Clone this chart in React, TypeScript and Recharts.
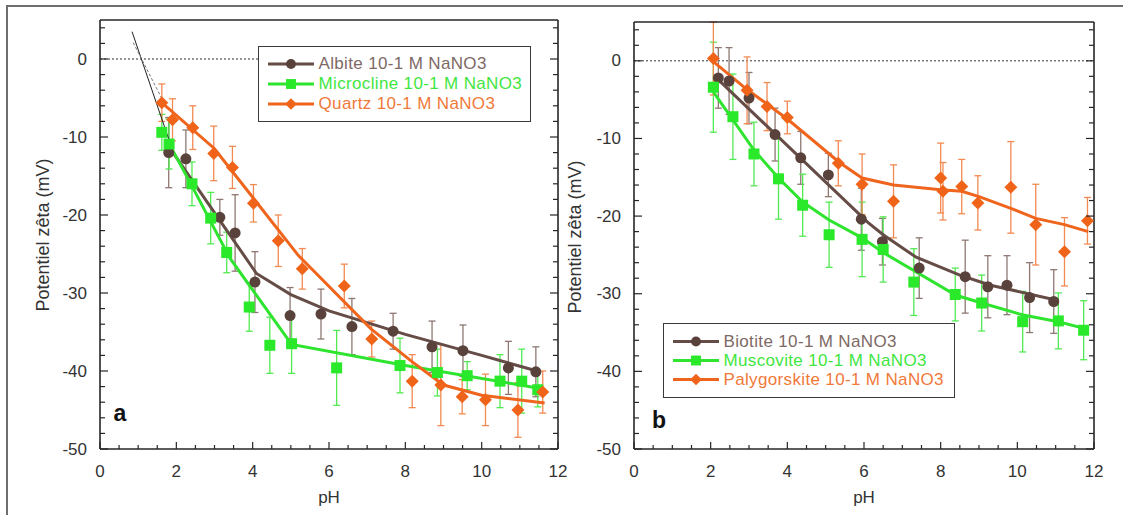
import React from 'react';
import { ScatterChart, Scatter, XAxis, YAxis, ErrorBar, ReferenceLine, Legend } from 'recharts';

const FONT = "'Liberation Sans', Arial, Helvetica, sans-serif";
const AXIS = '#262626';
const TEXT = '#333333';

// axes
const PH_TICKS = [0, 0.5, 1, 1.5, 2, 2.5, 3, 3.5, 4, 4.5, 5, 5.5, 6, 6.5, 7, 7.5, 8, 8.5, 9, 9.5, 10, 10.5, 11, 11.5, 12];
const PH_LABELS = [0, 2, 4, 6, 8, 10, 12];
const ZETA_TICKS = [-50, -48, -46, -44, -42, -40, -38, -36, -34, -32, -30, -28, -26, -24, -22, -20, -18, -16, -14, -12, -10, -8, -6, -4, -2, 0, 2, 4];
const ZETA_LABELS = [-50, -40, -30, -20, -10, 0];

// panel a : measured points
const ALBITE_PH = [1.8, 2.25, 3.14, 3.54, 4.06, 4.98, 5.79, 6.6, 7.68, 8.7, 9.51, 10.7, 11.42];
const ALBITE_ZETA = [-12, -12.8, -20.3, -22.3, -28.6, -32.9, -32.7, -34.3, -34.9, -36.9, -37.4, -39.6, -40.1];
const ALBITE_ERR = [4.5, 3.7, 2.3, 4.9, 3.9, 3.6, 3.2, 3.6, 2.3, 3.3, 3.3, 3.4, 3.2];

const MICROCLINE_PH = [1.62, 1.81, 2.41, 2.9, 3.32, 3.91, 4.45, 5.02, 6.2, 7.86, 8.84, 9.62, 10.48, 11.05, 11.47];
const MICROCLINE_ZETA = [-9.4, -10.9, -16, -20.4, -24.8, -31.8, -36.7, -36.5, -39.6, -39.3, -40.2, -40.6, -41.3, -41.3, -42.4];
const MICROCLINE_ERR = [2.3, 3.2, 2.8, 3.3, 2.6, 3.1, 3.6, 3.8, 4.8, 3.5, 3, 1.8, 3.4, 4.1, 2.2];

const QUARTZ_PH = [1.62, 1.9, 2.43, 2.98, 3.47, 4.02, 4.67, 5.3, 6.4, 7.12, 8.18, 8.93, 9.49, 10.1, 10.95, 11.6];
const QUARTZ_ZETA = [-5.6, -7.8, -8.8, -12.1, -13.9, -18.5, -23.3, -26.9, -29.1, -35.9, -41.3, -41.8, -43.3, -43.7, -45, -42.7];
const QUARTZ_ERR = [2.4, 2.7, 2.8, 3.5, 2.7, 2.4, 3.3, 2.6, 2.8, 2.3, 3.4, 5.2, 2.2, 3.3, 3.5, 2.7];

// panel a : trend lines
const ALBITE_FIT_PH = [1.8, 4.1, 5, 6, 8, 10, 11.45];
const ALBITE_FIT = [-11.2, -27.5, -30.2, -32.3, -35.3, -38, -40];
const MICROCLINE_FIT_PH = [1.75, 2.4, 3.4, 5.02, 8, 11.5];
const MICROCLINE_FIT = [-10.3, -16.2, -25.5, -36.6, -39.3, -42.2];
const QUARTZ_FIT_PH = [1.62, 3, 5.2, 7.1, 8.2, 9, 10, 11.65];
const QUARTZ_FIT = [-5.6, -11.5, -25.2, -34.6, -38.9, -41.8, -43.1, -44.1];
const IEP_A1_PH = [0.84, 1.83];
const IEP_A1 = [3.5, -10.7];
const IEP_A2_PH = [0.87, 1.76];
const IEP_A2 = [2.1, -6.4];
const ZERO_END_A = 4.3;

// panel b : measured points
const BIOTITE_PH = [2.2, 2.48, 3.0, 3.68, 4.35, 5.07, 5.93, 6.48, 7.44, 8.64, 9.23, 9.73, 10.32, 10.95];
const BIOTITE_ZETA = [-2.2, -2.6, -4.8, -9.5, -12.5, -14.7, -20.4, -23.3, -26.7, -27.8, -29.1, -28.9, -30.5, -31];
const BIOTITE_ERR = [3.9, 4.3, 3.3, 3.4, 3.4, 2.8, 4, 3, 3.9, 4.7, 4, 3.8, 4.5, 4.1];

const MUSCOVITE_PH = [2.07, 2.58, 3.13, 3.77, 4.4, 5.09, 5.95, 6.5, 7.3, 8.38, 9.07, 10.14, 11.07, 11.73];
const MUSCOVITE_ZETA = [-3.4, -7.2, -12, -15.2, -18.6, -22.4, -23, -24.3, -28.5, -30.1, -31.2, -33.6, -33.5, -34.7];
const MUSCOVITE_ERR = [5.8, 5.5, 4.1, 5.2, 4, 4.2, 4.8, 4.2, 4.3, 3.4, 3.6, 3.9, 3.6, 3.8];

const PALYGORSKITE_PH = [2.07, 2.95, 3.47, 4.0, 5.33, 5.95, 6.77, 8.0, 8.06, 8.55, 8.97, 9.83, 10.48, 11.23, 11.83];
const PALYGORSKITE_ZETA = [0.3, -3.8, -5.9, -7.3, -13.2, -15.9, -18.1, -15.1, -16.8, -16.2, -18.3, -16.3, -21.1, -24.6, -20.6];
const PALYGORSKITE_ERR = [4.7, 4.3, 3.1, 2.1, 2.9, 3.9, 4.7, 4.5, 3.7, 3.5, 3.5, 5.9, 5.2, 4.4, 3];

// panel b : trend lines
const BIOTITE_FIT_PH = [2.17, 6.1, 6.5, 7.36, 8.5, 9.3, 11];
const BIOTITE_FIT = [-2.3, -20.8, -22.4, -25.3, -27.6, -28.9, -30.8];
const MUSCOVITE_FIT_PH = [2.07, 3.13, 3.77, 4.4, 5.09, 5.95, 6.5, 8.4, 9.07, 10.12, 11.07, 11.77];
const MUSCOVITE_FIT = [-4, -11.5, -15.1, -18.2, -20.5, -22.8, -24.7, -30.2, -31.2, -32.7, -33.6, -34.5];
const PALYGORSKITE_FIT_PH = [2.07, 2.95, 4.0, 5.36, 5.95, 6.77, 8.0, 8.55, 9, 9.83, 10.48, 11.23, 11.85];
const PALYGORSKITE_FIT = [-0.1, -3.7, -7.5, -13.1, -15.1, -16, -16.6, -16.8, -17.5, -19, -20.3, -21.1, -22];

const BROWN = { mark: '#5a423c', line: '#654c46', err: '#8e7872', text: '#7d6964' };
const GREEN = { mark: '#2ae82a', line: '#2fe42f', err: '#52ea52', text: '#3fe63f' };
const ORANGE = { mark: '#f0641a', line: '#ef651d', err: '#f28a52', text: '#f0793a' };

const zip = (xs: number[], ys: number[], es?: number[]) =>
  xs.map((x, i) => ({ x, y: ys[i], err: es ? es[i] : 0 }));

type Kind = 'circle' | 'square' | 'diamond';

function markerEl(kind: Kind, cx: number, cy: number, fill: string, s = 1) {
  if (kind === 'circle') return <circle cx={cx} cy={cy} r={5.5 * s} fill={fill} />;
  if (kind === 'square') return <rect x={cx - 5.5 * s} y={cy - 5.5 * s} width={11 * s} height={11 * s} fill={fill} />;
  const d = 6.5 * s;
  return <polygon points={`${cx},${cy - d} ${cx + d},${cy} ${cx},${cy + d} ${cx - d},${cy}`} fill={fill} />;
}

const shapeOf = (kind: Kind, fill: string) => (p: any) => markerEl(kind, p.cx, p.cy, fill);
const NoShape = () => <g />;

// axes have a 1px box; ticks are drawn inward by hand
const BottomTick = (p: any) => {
  const v = p.payload.value;
  const major = PH_LABELS.includes(v);
  return (
    <g>
      <line x1={p.x} x2={p.x} y1={p.y} y2={p.y - (major ? 7 : 4)} stroke={AXIS} strokeWidth={1.2} />
      {major && (
        <text x={p.x} y={p.y + 22} textAnchor="middle" dominantBaseline="central" fontSize={17} fontFamily={FONT} fill={TEXT}>
          {v}
        </text>
      )}
    </g>
  );
};
const TopTick = (p: any) => {
  const major = PH_LABELS.includes(p.payload.value);
  return <line x1={p.x} x2={p.x} y1={p.y} y2={p.y + (major ? 7 : 4)} stroke={AXIS} strokeWidth={1.2} />;
};
const LeftTick = (p: any) => {
  const v = p.payload.value;
  const major = ZETA_LABELS.includes(v);
  return (
    <g>
      <line x1={p.x} x2={p.x + (major ? 8 : 5)} y1={p.y} y2={p.y} stroke={AXIS} strokeWidth={1.2} />
      {major && (
        <text x={p.x - 13} y={p.y} textAnchor="end" dominantBaseline="central" fontSize={17} fontFamily={FONT} fill={TEXT}>
          {v}
        </text>
      )}
    </g>
  );
};
const RightTick = (p: any) => {
  const major = ZETA_LABELS.includes(p.payload.value);
  return <line x1={p.x} x2={p.x - (major ? 8 : 5)} y1={p.y} y2={p.y} stroke={AXIS} strokeWidth={1.2} />;
};

type Series = {
  name: string;
  kind: Kind;
  color: typeof BROWN;
  points: { x: number; y: number; err: number }[];
  fit: { x: number; y: number; err: number }[];
};

const SERIES_A: Series[] = [
  { name: 'Albite 10-1 M NaNO3', kind: 'circle', color: BROWN, points: zip(ALBITE_PH, ALBITE_ZETA, ALBITE_ERR), fit: zip(ALBITE_FIT_PH, ALBITE_FIT) },
  { name: 'Microcline 10-1 M NaNO3', kind: 'square', color: GREEN, points: zip(MICROCLINE_PH, MICROCLINE_ZETA, MICROCLINE_ERR), fit: zip(MICROCLINE_FIT_PH, MICROCLINE_FIT) },
  { name: 'Quartz 10-1 M NaNO3', kind: 'diamond', color: ORANGE, points: zip(QUARTZ_PH, QUARTZ_ZETA, QUARTZ_ERR), fit: zip(QUARTZ_FIT_PH, QUARTZ_FIT) },
];

const SERIES_B: Series[] = [
  { name: 'Biotite 10-1 M NaNO3', kind: 'circle', color: BROWN, points: zip(BIOTITE_PH, BIOTITE_ZETA, BIOTITE_ERR), fit: zip(BIOTITE_FIT_PH, BIOTITE_FIT) },
  { name: 'Muscovite 10-1 M NaNO3', kind: 'square', color: GREEN, points: zip(MUSCOVITE_PH, MUSCOVITE_ZETA, MUSCOVITE_ERR), fit: zip(MUSCOVITE_FIT_PH, MUSCOVITE_FIT) },
  { name: 'Palygorskite 10-1 M NaNO3', kind: 'diamond', color: ORANGE, points: zip(PALYGORSKITE_PH, PALYGORSKITE_ZETA, PALYGORSKITE_ERR), fit: zip(PALYGORSKITE_FIT_PH, PALYGORSKITE_FIT) },
];

function LegendBox({ series, width, height, rowH, padTop }: { series: Series[]; width: number; height: number; rowH: number; padTop: number }) {
  return (
    <div
      style={{
        width,
        height,
        boxSizing: 'border-box',
        border: `1.5px solid #3a3a3a`,
        background: '#fff',
        paddingTop: padTop - 1.5,
        fontFamily: FONT,
      }}
    >
      {series.map((s) => (
        <div key={s.name} style={{ display: 'flex', alignItems: 'center', height: rowH }}>
          <svg width={47} height={rowH} style={{ marginLeft: 8.5, flex: 'none' }}>
            <line x1={0} x2={46} y1={rowH / 2} y2={rowH / 2} stroke={s.color.line} strokeWidth={3} />
            {markerEl(s.kind, 23, rowH / 2, s.color.mark, 0.9)}
          </svg>
          <span style={{ marginLeft: 4, fontSize: 17, letterSpacing: 0.35, color: s.color.text, whiteSpace: 'nowrap', lineHeight: `${rowH}px` }}>
            {s.name}
          </span>
        </div>
      ))}
    </div>
  );
}

function Panel(props: {
  series: Series[];
  width: number;
  top: number;
  left: number;
  right: number;
  legend: { left: number; top: number; width: number; height: number; rowH: number; padTop: number };
  zeroEnd?: number;
  extra?: React.ReactNode;
}) {
  const { series, width, top, left, right, legend, zeroEnd } = props;
  const frame = { stroke: AXIS, strokeWidth: 1.6 };
  return (
    <ScatterChart width={width} height={515} margin={{ top: top - 1, right: right - 1, bottom: 65, left: left - 1 }}>
      <XAxis dataKey="x" type="number" domain={[0, 12]} ticks={PH_TICKS} interval={0} height={1} tickSize={0} tickMargin={0} tickLine={false} tick={BottomTick} axisLine={frame} allowDataOverflow />
      <XAxis xAxisId="top" orientation="top" type="number" domain={[0, 12]} ticks={PH_TICKS} interval={0} height={1} tickSize={0} tickMargin={0} tickLine={false} tick={TopTick} axisLine={frame} allowDataOverflow />
      <YAxis dataKey="y" type="number" domain={[-50, 5]} ticks={ZETA_TICKS} interval={0} width={1} tickSize={0} tickMargin={0} tickLine={false} tick={LeftTick} axisLine={frame} allowDataOverflow />
      <YAxis yAxisId="right" orientation="right" type="number" domain={[-50, 5]} ticks={ZETA_TICKS} interval={0} width={1} tickSize={0} tickMargin={0} tickLine={false} tick={RightTick} axisLine={frame} allowDataOverflow />
      {zeroEnd === undefined ? (
        <ReferenceLine y={0} stroke="#333" strokeWidth={1} strokeDasharray="2 2" />
      ) : (
        <ReferenceLine segment={[{ x: 0, y: 0 }, { x: zeroEnd, y: 0 }]} stroke="#333" strokeWidth={1} strokeDasharray="2 2" />
      )}
      {props.extra}
      {series.map((s) => (
        <Scatter key={s.name + '-fit'} data={s.fit} line={{ stroke: s.color.line, strokeWidth: 3 }} shape={NoShape} legendType="none" isAnimationActive={false} />
      ))}
      {series.map((s) => (
        <Scatter key={s.name} name={s.name} data={s.points} shape={shapeOf(s.kind, s.color.mark)} isAnimationActive={false}>
          <ErrorBar dataKey="err" direction="y" width={3.5} stroke={s.color.err} strokeWidth={1.3} />
        </Scatter>
      ))}
      <Legend
        layout="vertical"
        align="center"
        verticalAlign="middle"
        wrapperStyle={{ left: legend.left, top: legend.top, width: legend.width, height: legend.height }}
        content={() => <LegendBox series={series} width={legend.width} height={legend.height} rowH={legend.rowH} padTop={legend.padTop} />}
      />
    </ScatterChart>
  );
}

const textStyle: React.CSSProperties = { position: 'absolute', fontFamily: FONT, fontSize: 17, color: TEXT, whiteSpace: 'nowrap' };

function Centered({ x, y, rotate, style, children }: { x: number; y: number; rotate?: boolean; style?: React.CSSProperties; children: React.ReactNode }) {
  return (
    <div style={{ ...textStyle, left: x, top: y, width: 0, height: 0, ...style }}>
      <div style={{ position: 'absolute', left: 0, top: 0, transform: `translate(-50%, -50%)${rotate ? ' rotate(-90deg)' : ''}` }}>{children}</div>
    </div>
  );
}

export default function App() {
  return (
    <div style={{ position: 'absolute', left: 0, top: 0, width: 1123, height: 515, background: '#fff', overflow: 'hidden' }}>
      <div style={{ position: 'absolute', left: 6, top: 5, width: 1117, height: 510, borderTop: '2px solid #6e6e6e', borderLeft: '2px solid #6e6e6e' }} />
      <div style={{ position: 'absolute', left: 0, top: 0 }}>
        <Panel
          series={SERIES_A}
          width={570}
          top={20}
          left={100}
          right={12}
          zeroEnd={ZERO_END_A}
          legend={{ left: 258, top: 46, width: 273, height: 76, rowH: 20, padTop: 8 }}
          extra={[
            <Scatter key="iep1" data={zip(IEP_A1_PH, IEP_A1)} line={{ stroke: '#222', strokeWidth: 1 }} shape={NoShape} legendType="none" isAnimationActive={false} />,
            <Scatter key="iep2" data={zip(IEP_A2_PH, IEP_A2)} line={{ stroke: '#777', strokeWidth: 1, strokeDasharray: '3 2' }} shape={NoShape} legendType="none" isAnimationActive={false} />,
          ]}
        />
      </div>
      <div style={{ position: 'absolute', left: 570, top: 0 }}>
        <Panel
          series={SERIES_B}
          width={553}
          top={22}
          left={64}
          right={29}
          legend={{ left: 93, top: 323, width: 292, height: 75, rowH: 19, padTop: 9.5 }}
        />
      </div>
      <Centered x={43} y={235} rotate style={{ fontSize: 18 }}>Potentiel zêta (mV)</Centered>
      <Centered x={575} y={237} rotate style={{ fontSize: 18 }}>Potentiel zêta (mV)</Centered>
      <Centered x={329} y={498}>pH</Centered>
      <Centered x={864} y={498}>pH</Centered>
      <Centered x={120} y={413} style={{ fontSize: 23, fontWeight: 'bold', color: '#111' }}>a</Centered>
      <Centered x={659} y={420} style={{ fontSize: 23, fontWeight: 'bold', color: '#111' }}>b</Centered>
    </div>
  );
}
